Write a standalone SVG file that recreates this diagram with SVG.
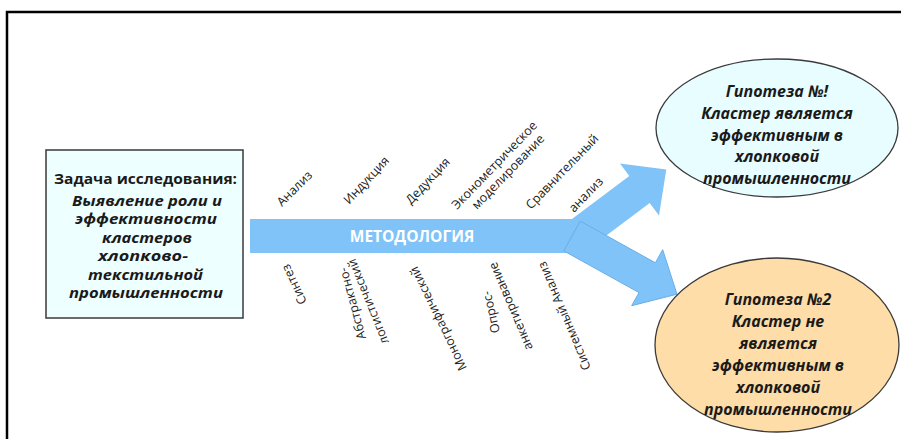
<svg xmlns="http://www.w3.org/2000/svg" width="901" height="439" viewBox="0 0 901 439">
<style>
.frame{fill:none;stroke:#000;stroke-width:2.5}
.box{fill:#EEFFFF;stroke:#3a3a3a;stroke-width:1.5}
.ell1{fill:#E8FDFF;stroke:#3a3a3a;stroke-width:1.3}
.ell2{fill:#FEDDA8;stroke:#3a3a3a;stroke-width:1.3}
.arr{fill:#80C3F8}
.arr2{fill:#80C3F8;stroke:#6AAEE6;stroke-width:1}
.t{font-family:"Open Sans","Liberation Sans",sans-serif;font-size:16px;font-weight:bold;font-style:italic;fill:#1a1a1a;text-anchor:middle}
.b{font-family:"Open Sans","Liberation Sans",sans-serif;font-size:13.5px;font-weight:bold;font-style:italic;fill:#1a1a1a;text-anchor:middle}
.h{font-style:normal}
.lbl{font-family:"Open Sans","Liberation Sans",sans-serif;font-size:12.5px;fill:#222}
.mt{font-family:"Open Sans","Liberation Sans",sans-serif;font-size:15.5px;font-weight:bold;fill:#fff;text-anchor:middle}
</style>
<path class="frame" d="M7,439 V12 H901"/>
<g id="connectors">
<polygon class="arr" points="565.3,223.9 629.3,175.9 620,163.5 666.3,169.4 659,215.5 649.7,203.1 585.7,251.1"/>
<rect class="arr" x="250" y="219" width="324" height="34"/>
<polygon class="arr2" points="580.2,221.1 655.4,262.8 662.7,249.7 677,294.2 631.7,305.7 639,292.6 563.8,250.9"/>
<text class="mt" x="412" y="241.5">МЕТОДОЛОГИЯ</text>
</g>
<g id="task">
<rect class="box" x="46" y="150" width="197" height="168"/>
<text class="b h" x="145.5" y="184" textLength="183" lengthAdjust="spacingAndGlyphs">Задача исследования:</text>
<text class="b" x="147" y="205.5" textLength="150" lengthAdjust="spacingAndGlyphs">Выявление роли и</text>
<text class="b" x="146" y="224" textLength="142" lengthAdjust="spacingAndGlyphs">эффективности</text>
<text class="b" x="147" y="242.5" textLength="90" lengthAdjust="spacingAndGlyphs">кластеров</text>
<text class="b" x="143" y="261" textLength="90" lengthAdjust="spacingAndGlyphs">хлопково-</text>
<text class="b" x="145.5" y="279.5" textLength="115" lengthAdjust="spacingAndGlyphs">текстильной</text>
<text class="b" x="146" y="298" textLength="154" lengthAdjust="spacingAndGlyphs">промышленности</text>
</g>
<g id="hyp1">
<ellipse class="ell1" cx="777" cy="128" rx="121" ry="69"/>
<text class="t" x="777" y="97">Гипотеза №!</text>
<text class="t" x="777" y="119">Кластер является</text>
<text class="t" x="777" y="140.5">эффективным в</text>
<text class="t" x="777" y="162">хлопковой</text>
<text class="t" x="777" y="184">промышленности</text>
</g>
<g id="hyp2">
<ellipse class="ell2" cx="777" cy="345" rx="122" ry="87"/>
<text class="t" x="778" y="305">Гипотеза №2</text>
<text class="t" x="778" y="327">Кластер не</text>
<text class="t" x="778" y="349">является</text>
<text class="t" x="778" y="371">эффективным в</text>
<text class="t" x="778" y="393">хлопковой</text>
<text class="t" x="778" y="415">промышленности</text>
</g>
<g id="methods-top">
<text class="lbl" transform="translate(282,207) rotate(-45)">Анализ</text>
<text class="lbl" transform="translate(349,205) rotate(-47)">Индукция</text>
<text class="lbl" transform="translate(411,205) rotate(-47)">Дедукция</text>
<text class="lbl" transform="translate(457,210) rotate(-46)">Эконометрическое</text>
<text class="lbl" transform="translate(477,210) rotate(-46)">моделирование</text>
<text class="lbl" transform="translate(531,210) rotate(-46)">Сравнительный</text>
<text class="lbl" transform="translate(574,213) rotate(-46)">анализ</text>
</g>
<g id="methods-bottom">
<text class="lbl" transform="translate(307,302) rotate(-115)">Синтез</text>
<text class="lbl" transform="translate(366,338) rotate(-105)">Абстрактно-</text>
<text class="lbl" transform="translate(389,342) rotate(-112)">логистический</text>
<text class="lbl" transform="translate(467,368) rotate(-116)">Монографический</text>
<text class="lbl" transform="translate(500,332) rotate(-103)">Опрос-</text>
<text class="lbl" transform="translate(533,348) rotate(-113)">анкетирование</text>
<text class="lbl" transform="translate(591,368) rotate(-113)">Системный Анализ</text>
</g>
</svg>
